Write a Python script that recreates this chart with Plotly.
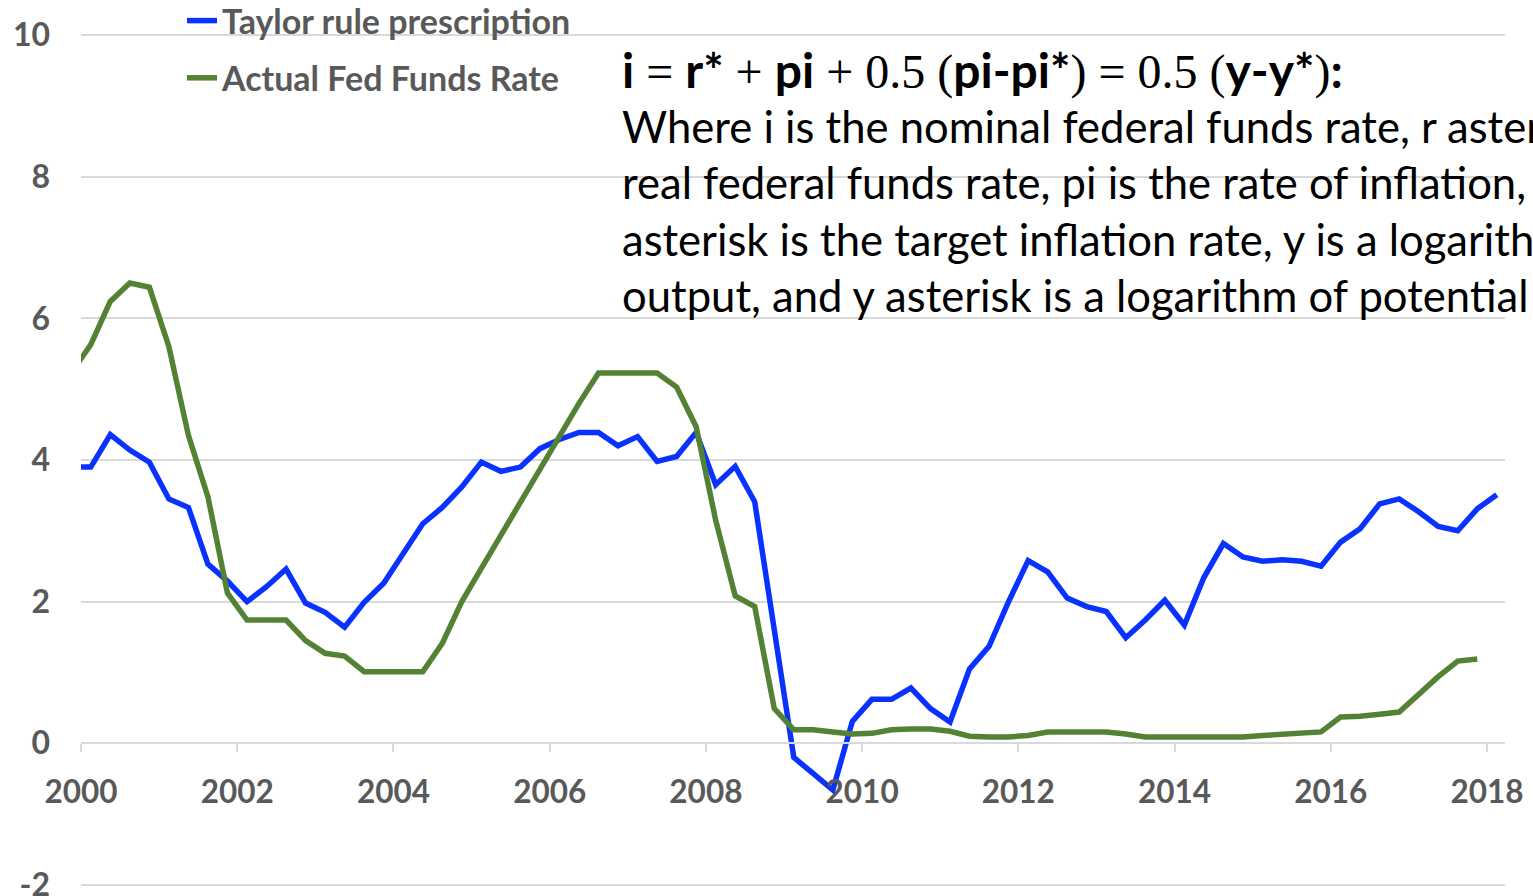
import plotly.graph_objects as go

# ---- data (quarterly) ----
quarters = ["1999Q4"] + [f"{y}Q{q}" for y in range(2000, 2019) for q in range(1, 5)]

taylor = [
    3.90,
    3.90, 4.36, 4.14, 3.97,
    3.45, 3.33, 2.53, 2.29,
    2.00, 2.21, 2.46, 1.98,
    1.85, 1.64, 1.99, 2.26,
    2.68, 3.10, 3.33, 3.62,
    3.97, 3.84, 3.90, 4.16,
    4.29, 4.39, 4.39, 4.20,
    4.33, 3.98, 4.05, 4.39,
    3.65, 3.91, 3.41, 1.65,
    -0.20, -0.43, -0.66, 0.31,
    0.62, 0.62, 0.78, 0.49,
    0.30, 1.05, 1.37, 2.00,
    2.58, 2.42, 2.05, 1.93,
    1.86, 1.49, 1.74, 2.02,
    1.67, 2.34, 2.82, 2.63,
    2.57, 2.59, 2.57, 2.50,
    2.84, 3.03, 3.38, 3.45,
    3.27, 3.06, 3.00, 3.31,
    3.51,
]

fed_funds = [
    5.23,
    5.63, 6.24, 6.50, 6.44,
    5.60, 4.35, 3.48, 2.12,
    1.74, 1.74, 1.74, 1.45,
    1.27, 1.23, 1.01, 1.01,
    1.01, 1.01, 1.41, 2.00,
    2.47, 2.94, 3.41, 3.88,
    4.35, 4.80, 5.23, 5.23,
    5.23, 5.23, 5.03, 4.47,
    3.15, 2.08, 1.93, 0.49,
    0.19, 0.19, 0.16, 0.13,
    0.14, 0.19, 0.20, 0.20,
    0.17, 0.10, 0.09, 0.09,
    0.11, 0.16, 0.16, 0.16,
    0.16, 0.13, 0.09, 0.09,
    0.09, 0.09, 0.09, 0.09,
    0.11, 0.13, 0.15, 0.16,
    0.37, 0.38, 0.41, 0.44,
    0.69, 0.94, 1.16, 1.19,
]

year_ticks = list(range(2000, 2019, 2))
y_ticks = list(range(-2, 11, 2))

# quarter label -> mid-quarter decimal year
x_pos = [int(q[:4]) + (int(q[-1]) - 1) * 0.25 + 0.125 for q in quarters]

BLUE = "#0A32FF"
GREEN = "#548235"
GREY_TXT = "#595959"
GRID = "#d9d9d9"
SANS = "Lato"

W, H = 1533, 896
L, R, T, B = 81, 28, 33, 9
PW, PH = W - L - R, H - T - B
Y_RANGE = [-2.03, 10.03]


def px_x(px):
    return (px - L) / PW


def px_y(py):
    return (H - B - py) / PH


fig = go.Figure()
fig.add_trace(go.Scatter(
    x=x_pos[:len(taylor)], y=taylor, mode="lines",
    name="Taylor rule prescription", legendgroup="a",
    line=dict(color=BLUE, width=5.5),
))
fig.add_trace(go.Scatter(
    x=x_pos[:len(fed_funds)], y=fed_funds, mode="lines",
    name="Actual Fed Funds Rate", legendgroup="b",
    line=dict(color=GREEN, width=5.5),
))

serif = "font-family:'Liberation Serif',serif;font-weight:normal"


def s(t):
    return f"<span style=\"{serif}\">{t}</span>"


formula = ("<b>i</b>" + s(" = ") + "<b>r*</b>" + s(" + ") + "<b>pi</b>" + s(" + 0.5 (")
           + "<b>pi-pi*</b>" + s(") = 0.5 (") + "<b>y-y*</b>" + s(")") + "<b>:</b>")

body_lines = [
    "Where i is the nominal federal funds rate, r asterisk is the",
    "real federal funds rate, pi is the rate of inflation, pi",
    "asterisk is the target inflation rate, y is a logarithm of real",
    "output, and y asterisk is a logarithm of potential output.",
]
line_centers = [70, 126, 182, 239, 295]
line_sizes = [48, 43.6, 43.6, 43.6, 43.6]

annotations = []
for txt, cy, fs in zip([formula] + body_lines, line_centers, line_sizes):
    annotations.append(dict(
        text=txt, xref="paper", yref="paper", x=px_x(620), y=px_y(cy),
        xanchor="left", yanchor="middle", showarrow=False, align="left",
        font=dict(family=SANS, size=fs, color="#000000"),
    ))

fig.update_layout(
    width=W, height=H,
    margin=dict(l=L, r=R, t=T, b=B, autoexpand=False),
    paper_bgcolor="white", plot_bgcolor="white",
    showlegend=True,
    legend=dict(
        x=px_x(182), y=px_y(-8), xanchor="left", yanchor="top",
        font=dict(family=SANS, size=34, color=GREY_TXT, weight="bold"),
        bgcolor="rgba(0,0,0,0)", tracegroupgap=10,
    ),
    annotations=annotations,
    xaxis=dict(
        range=[2000, 2018.23], tickvals=year_ticks,
        ticktext=[str(v) for v in year_ticks],
        showgrid=False, zeroline=False,
        showline=True, linecolor=GRID, linewidth=1.5,
        ticks="outside", ticklen=8, tickcolor=GRID, tickwidth=1.5,
        anchor="free", position=(0 - Y_RANGE[0]) / (Y_RANGE[1] - Y_RANGE[0]),
        tickfont=dict(family=SANS, size=31.5, color=GREY_TXT, weight="bold"),
        ticklabelstandoff=13, ticklabeloverflow="allow",
    ),
    yaxis=dict(
        range=Y_RANGE, tickvals=y_ticks,
        ticktext=[str(v) for v in y_ticks],
        showgrid=True, gridcolor=GRID, gridwidth=1.5,
        zeroline=False, showline=False,
        ticks="", tickfont=dict(family=SANS, size=32, color=GREY_TXT, weight="bold"),
        ticklabelstandoff=30, ticklabeloverflow="allow",
    ),
)

fig.write_html(
    "out.html",
    config={"displayModeBar": False},
    post_script="document.body.style.margin='0';document.body.style.overflow='hidden';",
)
